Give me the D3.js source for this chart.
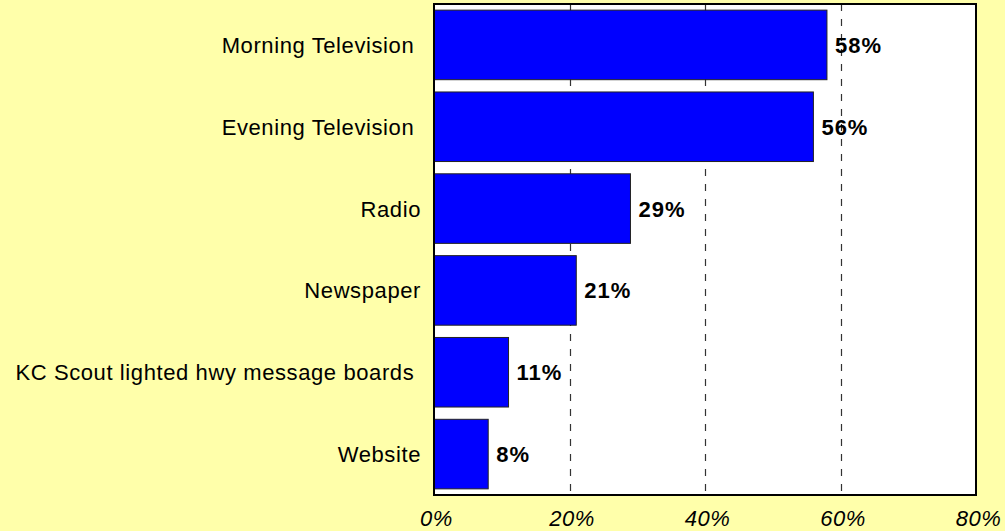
<!DOCTYPE html>
<html><head><meta charset="utf-8">
<script src="https://cdn.jsdelivr.net/npm/d3@7"></script>
<style>
html,body{margin:0;padding:0;background:#FFFFAA;}
svg{display:block;}
text{font-family:"Liberation Sans",Arial,Helvetica,sans-serif;white-space:pre;}
</style></head>
<body>
<svg id="chart" width="1005" height="531"></svg>
<script>
const categories = ["Morning Television ", "Evening Television ", "Radio", "Newspaper", "KC Scout lighted hwy message boards ", "Website"];
const values = [58, 56, 29, 21, 11, 8];
const valueLabels = ["58%", "56%", "29%", "21%", "11%", "8%"];
const ticks = [0, 20, 40, 60, 80];
const tickLabels = ["0%", "20%", "40%", "60%", "80%"];

const svg = d3.select("#chart");
const L = 434, R = 976, T = 4, B = 495;

svg.append("rect").attr("width",1005).attr("height",531).attr("fill","#FFFFAA");
svg.append("rect").attr("x",L).attr("y",T).attr("width",R-L).attr("height",B-T).attr("fill","#fff");

const x = d3.scaleLinear().domain([0,80]).range([L,R]);
const y = d3.scaleBand().domain(categories).range([T,B]).paddingInner(0.15).paddingOuter(0.075);

// gridlines
svg.append("g").selectAll("line").data(ticks.filter(t=>t>0 && t<80)).join("line")
  .attr("x1",d=>Math.round(x(d))+0.5).attr("x2",d=>Math.round(x(d))+0.5)
  .attr("y1",T).attr("y2",B)
  .attr("stroke","#333").attr("stroke-width",1.2).attr("stroke-dasharray","7,8");

// bars
svg.append("g").selectAll("rect").data(values).join("rect")
  .attr("x",x(0)).attr("y",(d,i)=>y(categories[i]))
  .attr("width",d=>x(d)-x(0)).attr("height",y.bandwidth())
  .attr("fill","#0000FF").attr("stroke","#222").attr("stroke-width",1);

// value labels
svg.append("g").selectAll("text").data(values).join("text")
  .attr("x",d=>x(d)+8).attr("y",(d,i)=>y(categories[i])+y.bandwidth()/2+8)
  .attr("font-size",22).attr("font-weight","bold").attr("letter-spacing",1)
  .attr("fill","#000").text((d,i)=>valueLabels[i]);

// category axis
const yAxis = d3.axisLeft(y).tickSize(0).tickPadding(13);
const gy = svg.append("g").attr("transform",`translate(${L},0)`).call(yAxis);
gy.select(".domain").remove();
gy.selectAll("text").attr("font-size",22).attr("letter-spacing",0.6).attr("fill","#000")
  .attr("dy",null).attr("y",8).style("font-family","'Liberation Sans',Arial,sans-serif");

// x axis labels
const xAxis = d3.axisBottom(x).tickValues(ticks).tickSize(0).tickPadding(0).tickFormat((d,i)=>tickLabels[i]);
const gx = svg.append("g").attr("transform",`translate(0,${B})`).call(xAxis);
gx.select(".domain").remove();
gx.selectAll("text").attr("font-size",22).attr("font-style","italic").attr("letter-spacing",0.5)
  .attr("fill","#000").attr("dy",null).attr("y",31).attr("dx",2)
  .style("font-family","'Liberation Sans',Arial,sans-serif");

// plot border
svg.append("rect").attr("x",L).attr("y",T).attr("width",R-L).attr("height",B-T)
  .attr("fill","none").attr("stroke","#000").attr("stroke-width",2);
</script>
</body></html>
